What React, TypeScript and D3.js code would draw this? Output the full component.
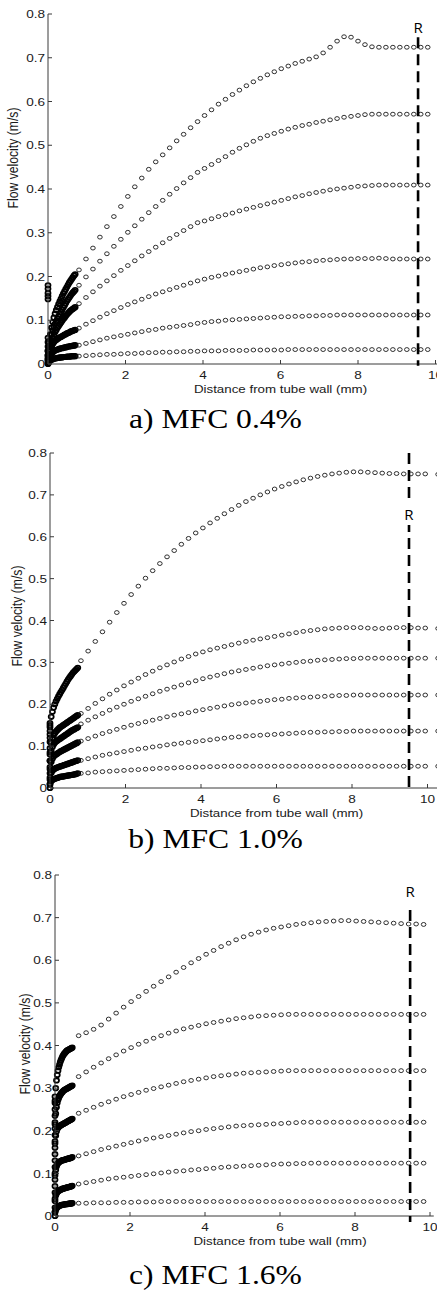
import React from 'react';
import * as d3 from 'd3';

// ---------- DATA ----------
const xTicks = [0, 2, 4, 6, 8, 10];
const yTicks = [0, 0.1, 0.2, 0.3, 0.4, 0.5, 0.6, 0.7, 0.8];
const yTickLabels = ['0', '0.1', '0.2', '0.3', '0.4', '0.5', '0.6', '0.7', '0.8'];
const captions = ['a) MFC 0.4%', 'b) MFC 1.0%', 'c) MFC 1.6%'];
const xLabel = 'Distance from tube wall (mm)';
const yLabel = 'Flow velocity (m/s)';
const rLabel = 'R';
const rPositions = [9.55, 9.51, 9.47];

// measurement grids (mm)
const denseStepA = 0.0305, denseStepB = 0.032, denseStepC = 0.02;
const sparseStartA = 0.8, sparseStepA = 0.18;
const sparseStartB = 0.82, sparseStepB = 0.19, edgeXB = 10.28;
const sparseStartC = 0.63, sparseStepC = 0.2;

// ---- Panel a: MFC 0.4% ----
const a1Dense = [0.03,0.05,0.068,0.083,0.096,0.106,0.115,0.123,0.13,0.137,0.143,0.149,0.155,0.161,0.166,0.171,0.176,0.181,0.186,0.19,0.194,0.198,0.202,0.205];
const a2Dense = [0.02,0.04,0.055,0.067,0.077,0.085,0.092,0.098,0.104,0.109,0.114,0.119,0.124,0.129,0.134,0.139,0.144,0.148,0.152,0.156,0.16,0.163,0.166,0.169];
const a3Dense = [0.015,0.03,0.042,0.052,0.06,0.067,0.073,0.078,0.083,0.087,0.091,0.095,0.099,0.103,0.106,0.11,0.113,0.116,0.119,0.122,0.124,0.126,0.128,0.13];
const a4Dense = [0.01,0.022,0.032,0.04,0.046,0.05,0.053,0.055,0.057,0.059,0.061,0.062,0.064,0.065,0.067,0.068,0.07,0.071,0.072,0.074,0.075,0.076,0.077,0.078];
const a5Dense = [0.005,0.012,0.018,0.023,0.027,0.029,0.031,0.032,0.033,0.034,0.035,0.036,0.036,0.037,0.038,0.038,0.039,0.04,0.04,0.041,0.041,0.042,0.042,0.043];
const a6Dense = [0.002,0.005,0.008,0.01,0.011,0.012,0.013,0.013,0.014,0.014,0.015,0.015,0.015,0.016,0.016,0.016,0.017,0.017,0.017,0.017,0.018,0.018,0.018,0.018];
const aWall = [0, 0.01, 0.02, 0.03, 0.04, 0.05, 0.06, 0.148, 0.155, 0.162, 0.172, 0.18];

const a1 = [0.215,0.240,0.265,0.290,0.314,0.337,0.360,0.383,0.405,0.425,0.445,0.462,0.478,0.494,0.510,0.525,0.540,0.554,0.568,0.581,0.594,0.605,0.616,0.626,0.636,0.645,0.653,0.661,0.668,0.675,0.681,0.687,0.692,0.697,0.702,0.711,0.724,0.738,0.748,0.747,0.738,0.730,0.725,0.724,0.724,0.724,0.724,0.724,0.724,0.724,0.724];
const a2 = [0.180,0.199,0.217,0.235,0.252,0.269,0.285,0.301,0.316,0.331,0.346,0.360,0.374,0.388,0.401,0.414,0.426,0.438,0.447,0.456,0.465,0.474,0.484,0.493,0.501,0.509,0.516,0.522,0.527,0.532,0.537,0.541,0.545,0.548,0.552,0.555,0.558,0.561,0.564,0.566,0.568,0.570,0.571,0.571,0.571,0.571,0.571,0.571,0.571,0.571,0.571];
const a3 = [0.138,0.152,0.165,0.178,0.190,0.202,0.214,0.225,0.236,0.247,0.257,0.267,0.277,0.287,0.296,0.305,0.314,0.323,0.327,0.332,0.337,0.341,0.345,0.350,0.354,0.358,0.362,0.366,0.370,0.374,0.378,0.382,0.385,0.389,0.392,0.395,0.398,0.400,0.402,0.404,0.406,0.407,0.408,0.409,0.409,0.409,0.409,0.409,0.409,0.409,0.409];
const a4 = [0.082,0.091,0.099,0.107,0.115,0.122,0.129,0.136,0.142,0.148,0.154,0.160,0.165,0.170,0.175,0.180,0.185,0.190,0.194,0.198,0.201,0.205,0.208,0.211,0.214,0.217,0.220,0.222,0.225,0.227,0.229,0.231,0.233,0.234,0.236,0.237,0.238,0.239,0.240,0.240,0.241,0.241,0.241,0.242,0.241,0.240,0.240,0.240,0.240,0.240,0.240];
const a5 = [0.043,0.047,0.051,0.055,0.059,0.062,0.065,0.068,0.071,0.074,0.077,0.079,0.082,0.084,0.086,0.088,0.090,0.093,0.095,0.097,0.098,0.100,0.101,0.102,0.103,0.104,0.105,0.106,0.107,0.108,0.108,0.109,0.109,0.110,0.110,0.111,0.111,0.112,0.112,0.112,0.112,0.112,0.112,0.112,0.112,0.112,0.112,0.112,0.112,0.112,0.112];
const a6 = [0.018,0.019,0.020,0.021,0.022,0.022,0.023,0.024,0.024,0.025,0.026,0.026,0.027,0.027,0.028,0.028,0.029,0.029,0.030,0.030,0.030,0.031,0.031,0.031,0.031,0.032,0.032,0.032,0.032,0.032,0.033,0.033,0.033,0.033,0.033,0.033,0.033,0.033,0.033,0.033,0.033,0.033,0.033,0.033,0.033,0.033,0.033,0.033,0.033,0.033,0.033];

// ---- Panel b: MFC 1.0% ----
const b1Dense = [0.150,0.170,0.182,0.192,0.200,0.207,0.213,0.219,0.224,0.229,0.234,0.239,0.244,0.249,0.254,0.259,0.263,0.267,0.271,0.275,0.278,0.281,0.284,0.287];
const b2Dense = [0.085,0.108,0.119,0.126,0.131,0.135,0.138,0.141,0.144,0.146,0.148,0.150,0.152,0.154,0.156,0.158,0.160,0.162,0.164,0.166,0.168,0.170,0.172,0.174];
const b3Dense = [0.065,0.088,0.098,0.104,0.108,0.111,0.113,0.115,0.117,0.119,0.121,0.123,0.125,0.127,0.129,0.131,0.133,0.135,0.137,0.139,0.140,0.142,0.143,0.145];
const b4Dense = [0.045,0.062,0.070,0.075,0.078,0.080,0.082,0.084,0.086,0.088,0.089,0.091,0.092,0.094,0.095,0.097,0.098,0.100,0.101,0.103,0.104,0.106,0.107,0.109];
const b5Dense = [0.025,0.036,0.041,0.044,0.046,0.048,0.049,0.050,0.051,0.052,0.053,0.054,0.055,0.056,0.057,0.058,0.059,0.060,0.061,0.062,0.063,0.064,0.065,0.066];
const b6Dense = [0.010,0.016,0.019,0.021,0.022,0.023,0.024,0.025,0.026,0.027,0.027,0.028,0.028,0.029,0.029,0.030,0.030,0.031,0.031,0.032,0.032,0.033,0.034,0.035];
const bWall = [0, 0.008, 0.02, 0.035, 0.05, 0.065, 0.08, 0.095, 0.11, 0.12, 0.128, 0.136, 0.145, 0.155];

const b1 = [0.304,0.327,0.350,0.373,0.396,0.419,0.441,0.462,0.482,0.501,0.519,0.536,0.552,0.567,0.582,0.596,0.609,0.621,0.633,0.644,0.655,0.665,0.675,0.684,0.692,0.700,0.707,0.714,0.720,0.726,0.731,0.736,0.740,0.744,0.747,0.750,0.752,0.754,0.755,0.755,0.754,0.753,0.752,0.751,0.751,0.750,0.750,0.750,0.750,0.749];
const b2 = [0.178,0.190,0.202,0.213,0.224,0.234,0.244,0.253,0.262,0.271,0.279,0.287,0.294,0.301,0.308,0.314,0.320,0.325,0.330,0.334,0.338,0.342,0.346,0.350,0.353,0.356,0.359,0.362,0.365,0.368,0.371,0.374,0.376,0.378,0.380,0.381,0.382,0.383,0.383,0.383,0.382,0.381,0.381,0.382,0.383,0.383,0.383,0.382,0.382,0.381];
const b3 = [0.153,0.162,0.170,0.178,0.186,0.193,0.200,0.207,0.213,0.219,0.225,0.231,0.236,0.241,0.246,0.251,0.256,0.261,0.265,0.269,0.273,0.277,0.280,0.283,0.286,0.289,0.292,0.294,0.296,0.298,0.300,0.302,0.303,0.305,0.306,0.307,0.308,0.309,0.309,0.310,0.310,0.310,0.310,0.310,0.310,0.310,0.310,0.310,0.310,0.310];
const b4 = [0.112,0.118,0.124,0.130,0.135,0.140,0.145,0.150,0.154,0.158,0.162,0.166,0.170,0.174,0.177,0.180,0.184,0.187,0.190,0.193,0.196,0.199,0.201,0.203,0.205,0.207,0.209,0.211,0.212,0.214,0.215,0.216,0.217,0.218,0.219,0.220,0.221,0.221,0.222,0.222,0.222,0.222,0.222,0.222,0.222,0.222,0.222,0.222,0.222,0.222];
const b5 = [0.066,0.070,0.074,0.078,0.081,0.084,0.087,0.090,0.093,0.095,0.098,0.100,0.103,0.105,0.107,0.109,0.111,0.113,0.115,0.117,0.119,0.121,0.122,0.124,0.125,0.126,0.127,0.128,0.129,0.130,0.131,0.132,0.133,0.133,0.134,0.134,0.135,0.135,0.136,0.136,0.136,0.136,0.136,0.136,0.136,0.136,0.136,0.136,0.136,0.136];
const b6 = [0.035,0.036,0.038,0.039,0.040,0.041,0.042,0.043,0.044,0.045,0.046,0.047,0.047,0.048,0.049,0.049,0.050,0.050,0.051,0.051,0.052,0.052,0.052,0.052,0.052,0.052,0.052,0.052,0.052,0.052,0.052,0.052,0.052,0.052,0.052,0.052,0.052,0.052,0.052,0.052,0.052,0.052,0.052,0.052,0.052,0.052,0.052,0.052,0.052,0.052];

// ---- Panel c: MFC 1.6% ----
const c1Dense = [0.27,0.30,0.318,0.331,0.341,0.349,0.355,0.361,0.366,0.370,0.374,0.377,0.380,0.382,0.384,0.386,0.388,0.389,0.390,0.391,0.392,0.393,0.394,0.395];
const c2Dense = [0.215,0.240,0.255,0.265,0.272,0.277,0.281,0.284,0.287,0.289,0.291,0.293,0.295,0.296,0.297,0.298,0.299,0.300,0.301,0.302,0.303,0.304,0.305,0.306];
const c3Dense = [0.17,0.188,0.198,0.204,0.207,0.209,0.211,0.212,0.213,0.214,0.215,0.216,0.217,0.218,0.219,0.220,0.221,0.222,0.223,0.224,0.225,0.226,0.227,0.228];
const c4Dense = [0.095,0.108,0.116,0.121,0.124,0.126,0.127,0.128,0.129,0.130,0.131,0.131,0.132,0.132,0.133,0.133,0.134,0.134,0.135,0.135,0.136,0.136,0.137,0.138];
const c5Dense = [0.035,0.048,0.053,0.056,0.058,0.059,0.060,0.061,0.062,0.063,0.064,0.064,0.065,0.065,0.066,0.066,0.067,0.067,0.068,0.068,0.069,0.069,0.070,0.071];
const c6Dense = [0.008,0.014,0.018,0.020,0.022,0.023,0.024,0.025,0.025,0.026,0.026,0.027,0.027,0.027,0.028,0.028,0.028,0.028,0.029,0.029,0.029,0.029,0.030,0.030];
const cWall = [0, 0.01, 0.02, 0.04, 0.055, 0.07, 0.085, 0.1, 0.115, 0.13, 0.145, 0.16, 0.175, 0.19, 0.205, 0.22, 0.235, 0.25, 0.265, 0.28];

const c1 = [0.423,0.430,0.438,0.448,0.462,0.476,0.490,0.503,0.515,0.527,0.539,0.550,0.561,0.572,0.583,0.594,0.604,0.614,0.623,0.632,0.640,0.648,0.655,0.661,0.666,0.671,0.675,0.678,0.681,0.684,0.686,0.688,0.690,0.691,0.692,0.693,0.693,0.692,0.691,0.690,0.689,0.688,0.687,0.686,0.685,0.685,0.684];
const c2 = [0.327,0.338,0.349,0.359,0.369,0.378,0.387,0.395,0.403,0.410,0.417,0.423,0.429,0.434,0.439,0.443,0.447,0.451,0.454,0.457,0.460,0.463,0.465,0.467,0.469,0.470,0.471,0.472,0.473,0.473,0.473,0.473,0.473,0.473,0.473,0.473,0.473,0.473,0.473,0.473,0.473,0.473,0.473,0.473,0.473,0.473,0.473];
const c3 = [0.241,0.248,0.255,0.262,0.268,0.274,0.280,0.285,0.290,0.295,0.299,0.303,0.307,0.311,0.315,0.318,0.321,0.324,0.327,0.329,0.331,0.333,0.335,0.336,0.337,0.338,0.339,0.340,0.341,0.341,0.341,0.341,0.341,0.341,0.341,0.341,0.341,0.341,0.341,0.341,0.341,0.341,0.341,0.341,0.341,0.341,0.341];
const c4 = [0.141,0.146,0.151,0.156,0.160,0.164,0.168,0.172,0.176,0.180,0.183,0.186,0.189,0.192,0.195,0.198,0.200,0.203,0.205,0.207,0.209,0.211,0.212,0.213,0.214,0.215,0.216,0.217,0.218,0.219,0.220,0.220,0.220,0.220,0.220,0.220,0.220,0.220,0.220,0.220,0.220,0.220,0.220,0.220,0.220,0.220,0.220];
const c5 = [0.075,0.078,0.081,0.084,0.087,0.089,0.091,0.093,0.095,0.097,0.099,0.101,0.103,0.105,0.106,0.108,0.109,0.111,0.112,0.114,0.115,0.116,0.117,0.118,0.119,0.120,0.121,0.122,0.122,0.123,0.123,0.124,0.124,0.124,0.124,0.124,0.124,0.124,0.124,0.124,0.124,0.124,0.124,0.124,0.124,0.124,0.124];
const c6 = [0.030,0.030,0.031,0.031,0.031,0.032,0.032,0.032,0.033,0.033,0.033,0.034,0.034,0.034,0.034,0.034,0.034,0.034,0.034,0.034,0.034,0.034,0.034,0.034,0.034,0.034,0.034,0.034,0.034,0.034,0.034,0.034,0.034,0.034,0.034,0.034,0.034,0.034,0.034,0.034,0.034,0.034,0.034,0.034,0.034,0.034,0.034];

// ---------- LAYOUT ----------
const W = 437, H = 1295;
const SANS = "'Liberation Sans', Arial, Helvetica, sans-serif";
const SERIF = "'Liberation Serif', 'Times New Roman', serif";
const INK = '#1a1a1a';
const AXIS = '#3a3a3a';
const SX = 1.18; // horizontal stretch of the original picture's text

const gridX = (n: number, start: number, step: number) => d3.range(n).map(k => start + step * k);

const panelDefs = [
  {
    caption: captions[0], x0: 48, x10: 435.5, yZero: 364, yTop: 14, axisEnd: 10.3,
    yLabelX: 13, yLabelY: 158, captionY: 428, rX: rPositions[0], rTop: 0.747, rBottom: -0.004,
    rLabelY: 33, rBox: false,
    dense: [a1Dense, a2Dense, a3Dense, a4Dense, a5Dense, a6Dense], denseStep: denseStepA,
    sparse: [a1, a2, a3, a4, a5, a6], sparseX: (n: number) => gridX(n, sparseStartA, sparseStepA),
    wall: aWall,
  },
  {
    caption: captions[1], x0: 50, x10: 427.5, yZero: 788, yTop: 453, axisEnd: 10.3,
    yLabelX: 17, yLabelY: 616, captionY: 848, rX: rPositions[1], rTop: 0.8, rBottom: -0.008,
    rLabelY: 520, rBox: true,
    dense: [b1Dense, b2Dense, b3Dense, b4Dense, b5Dense, b6Dense], denseStep: denseStepB,
    sparse: [b1, b2, b3, b4, b5, b6], sparseX: (n: number) => [...gridX(n - 1, sparseStartB, sparseStepB), edgeXB],
    wall: bWall,
  },
  {
    caption: captions[2], x0: 55, x10: 430, yZero: 1216, yTop: 875, axisEnd: 10.1,
    yLabelX: 25, yLabelY: 1044, captionY: 1284, rX: rPositions[2], rTop: 0.718, rBottom: -0.014,
    rLabelY: 897, rBox: false,
    dense: [c1Dense, c2Dense, c3Dense, c4Dense, c5Dense, c6Dense], denseStep: denseStepC,
    sparse: [c1, c2, c3, c4, c5, c6], sparseX: (n: number) => gridX(n, sparseStartC, sparseStepC),
    wall: cWall,
  },
];

function Marker({ cx, cy, dense }: { cx: number; cy: number; dense?: boolean }) {
  return dense
    ? <ellipse cx={cx} cy={cy} rx={2.5} ry={2.2} fill="none" stroke="#000" strokeWidth={1.8} />
    : <ellipse cx={cx} cy={cy} rx={2.3} ry={1.95} fill="none" stroke={INK} strokeWidth={0.9} />;
}

function Panel({ p }: { p: typeof panelDefs[number] }) {
  const x = d3.scaleLinear().domain([0, 10]).range([p.x0, p.x10]);
  const y = d3.scaleLinear().domain([0, 0.8]).range([p.yZero, p.yTop]);
  const tick = 4;
  return (
    <g>
      {/* markers */}
      {p.wall.map((v, i) => <Marker key={'w' + i} cx={x(0)} cy={y(v)} dense />)}
      {p.dense.map((s, si) =>
        s.map((v, i) => <Marker key={`d${si}-${i}`} cx={x(i * p.denseStep)} cy={y(v)} dense />)
      )}
      {p.sparse.map((s, si) => {
        const xs = p.sparseX(s.length);
        return s.map((v, i) => <Marker key={`s${si}-${i}`} cx={x(xs[i])} cy={y(v)} />);
      })}

      {/* axes */}
      <line x1={x(0)} x2={x(0)} y1={y(0)} y2={y(0.8)} stroke={AXIS} strokeWidth={1} />
      <line x1={x(0)} x2={x(p.axisEnd)} y1={y(0)} y2={y(0)} stroke={AXIS} strokeWidth={1} />
      {yTicks.map((t, i) => (
        <g key={'yt' + i}>
          <line x1={x(0)} x2={x(0) + tick} y1={y(t)} y2={y(t)} stroke={AXIS} strokeWidth={1} />
          <text transform={`translate(${x(0) - 3},${y(t) + 4.2}) scale(${SX},1)`} textAnchor="end"
            fontFamily={SANS} fontSize={11.5} fill={INK}>{yTickLabels[i]}</text>
        </g>
      ))}
      {xTicks.map((t, i) => (
        <g key={'xt' + i}>
          <line x1={x(t)} x2={x(t)} y1={y(0)} y2={y(0) - tick} stroke={AXIS} strokeWidth={1} />
          <text transform={`translate(${x(t)},${y(0) + 15}) scale(${SX},1)`} textAnchor="middle"
            fontFamily={SANS} fontSize={11.5} fill={INK}>{String(t)}</text>
        </g>
      ))}
      <text transform={`translate(${x(6)},${y(0) + 29}) scale(${SX},1)`} textAnchor="middle"
        fontFamily={SANS} fontSize={11.3} fill={INK}>{xLabel}</text>
      <text transform={`translate(${p.yLabelX},${p.yLabelY}) scale(${SX},1) rotate(-90)`} textAnchor="middle"
        dominantBaseline="central" fontFamily={SANS} fontSize={12.2} fill={INK}>{yLabel}</text>

      {/* R line */}
      <line x1={x(p.rX)} x2={x(p.rX)} y1={y(p.rTop)} y2={y(p.rBottom)} stroke="#000"
        strokeWidth={2.6} strokeDasharray="11,6" />
      {p.rBox && <rect x={x(p.rX) - 7} y={p.rLabelY - 17} width={14} height={22} fill="#fff" />}
      <text x={x(p.rX)} y={p.rLabelY} textAnchor="middle" fontFamily="'Open Sans', 'Noto Sans', sans-serif"
        fontSize={15} fill="#000">{rLabel}</text>

      {/* caption */}
      <text transform={`translate(${W / 2 - 3},${p.captionY}) scale(1.17,1)`} textAnchor="middle"
        fontFamily={SERIF} fontSize={27} fill="#000">{p.caption}</text>
    </g>
  );
}

export default function App() {
  return (
    <svg width={W} height={H} viewBox={`0 0 ${W} ${H}`}
      style={{ position: 'absolute', left: 0, top: 0, background: '#fff', display: 'block' }}>
      <rect x={0} y={0} width={W} height={H} fill="#fff" />
      {panelDefs.map((p, i) => <Panel key={i} p={p} />)}
    </svg>
  );
}
